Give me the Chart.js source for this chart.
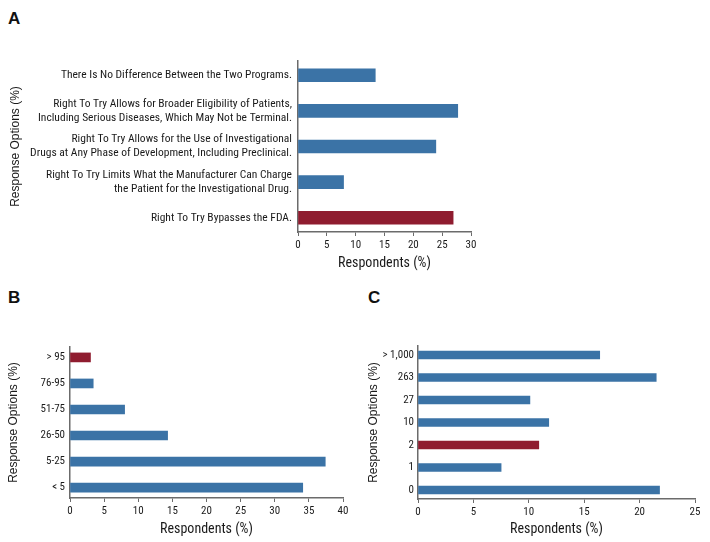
<!DOCTYPE html>
<html>
<head>
<meta charset="utf-8">
<script src="https://cdn.jsdelivr.net/npm/chart.js@4"></script>
<style>
  body { margin: 0; background: #fff; }
  #wrap { position: relative; width: 710px; height: 542px; overflow: hidden; }
  .panel { position: absolute; }
  .letter { position: absolute; font: bold 17px 'Liberation Sans', Arial, sans-serif; color: #111; }
</style>
</head>
<body>
<div id="wrap">
  <div class="letter" style="left:8px; top:9px;">A</div>
  <div class="letter" style="left:8px; top:288px;">B</div>
  <div class="letter" style="left:368px; top:288px;">C</div>
  <div class="panel" style="left:0; top:0; width:490px; height:280px;"><canvas id="chartA"></canvas></div>
  <div class="panel" style="left:0; top:300px; width:360px; height:242px;"><canvas id="chartB"></canvas></div>
  <div class="panel" style="left:360px; top:300px; width:350px; height:242px;"><canvas id="chartC"></canvas></div>
</div>
<script>
// Данные, сверху вниз
const labelsA = [
    'There Is No Difference Between the Two Programs.',
    ['Right To Try Allows for Broader Eligibility of Patients,', 'Including Serious Diseases, Which May Not be Terminal.'],
    ['Right To Try Allows for the Use of Investigational', 'Drugs at Any Phase of Development, Including Preclinical.'],
    ['Right To Try Limits What the Manufacturer Can Charge', 'the Patient for the Investigational Drug.'],
    'Right To Try Bypasses the FDA.'
];
const valuesA = [13.4, 27.7, 23.9, 7.9, 26.9];
const highlightA = 4;

const labelsB = ['> 95', '76-95', '51-75', '26-50', '5-25', '< 5'];
const valuesB = [3.0, 3.4, 8.0, 14.3, 37.4, 34.1];
const highlightB = 0;

const labelsC = ['> 1,000', '263', '27', '10', '2', '1', '0'];
const valuesC = [16.4, 21.5, 10.1, 11.8, 10.9, 7.5, 21.8];
const highlightC = 4;

const BLUE = '#3b73a6';
const RED = '#8f1c2f';
const AXIS = '#6b6b6b';
const TEXT = '#1a1a1a';
const SANS = "'Liberation Sans', Arial, sans-serif";
const NARROW = "'Roboto Condensed', 'DejaVu Sans Condensed', sans-serif";

function makeChart(id, cfg) {
    const n = cfg.labels.length;
    const ctx = document.getElementById(id).getContext('2d');
    return new Chart(ctx, {
        type: 'bar',
        data: {
            datasets: [{
                data: cfg.values.map((v, i) => ({ x: v, y: i })),
                backgroundColor: cfg.values.map((_, i) => i === cfg.highlight ? RED : BLUE),
                barThickness: cfg.barThickness,
                borderWidth: 0
            }]
        },
        options: {
            indexAxis: 'y',
            responsive: true,
            maintainAspectRatio: false,
            animation: false,
            layout: { padding: cfg.padding },
            plugins: { legend: { display: false }, tooltip: { enabled: false } },
            scales: {
                x: {
                    min: 0,
                    max: cfg.xMax,
                    grid: { drawOnChartArea: false, drawTicks: true, tickLength: 4, color: AXIS },
                    border: { display: true, color: AXIS, width: 1.5 },
                    ticks: { stepSize: 5, padding: 3, color: TEXT, font: { family: NARROW, size: 11 } },
                    title: {
                        display: true,
                        text: 'Respondents (%)',
                        color: TEXT,
                        font: { family: NARROW, size: 14 },
                        padding: { top: 0, bottom: cfg.xTitlePad }
                    },
                    afterFit: s => { s.height = cfg.xHeight; }
                },
                y: {
                    type: 'linear',
                    reverse: true,
                    offset: false,
                    bounds: 'data',
                    min: -0.4,
                    max: n - 1 + 0.4,
                    grid: { display: false, drawTicks: false, offset: false },
                    border: { display: true, color: AXIS, width: 1.5 },
                    ticks: {
                        padding: cfg.yTickPad,
                        color: TEXT,
                        font: cfg.yTickFont,
                        callback: v => cfg.labels[v]
                    },
                    afterBuildTicks: s => { s.ticks = cfg.labels.map((_, i) => ({ value: i })); },
                    title: {
                        display: true,
                        text: 'Response Options (%)',
                        color: TEXT,
                        font: { family: SANS, size: 12 },
                        padding: { top: cfg.yTitlePad, bottom: 0 }
                    },
                    afterFit: s => { s.width = cfg.yWidth; }
                }
            }
        }
    });
}

makeChart('chartA', {
    labels: labelsA, values: valuesA, highlight: highlightA,
    xMax: 30, barThickness: 13,
    padding: { top: 61, right: 19, bottom: 0, left: 0 },
    yWidth: 298, xHeight: 48, xTitlePad: 8, yTitlePad: 8, yTickPad: 6,
    yTickFont: { family: NARROW, size: 11.5, lineHeight: 1.2 }
});

makeChart('chartB', {
    labels: labelsB, values: valuesB, highlight: highlightB,
    xMax: 40, barThickness: 9,
    padding: { top: 47, right: 17, bottom: 0, left: 0 },
    yWidth: 70, xHeight: 44, xTitlePad: 4, yTitlePad: 6, yTickPad: 5,
    yTickFont: { family: NARROW, size: 11 }
});

makeChart('chartC', {
    labels: labelsC, values: valuesC, highlight: highlightC,
    xMax: 25, barThickness: 8,
    padding: { top: 46, right: 15, bottom: 0, left: 0 },
    yWidth: 58, xHeight: 43, xTitlePad: 4, yTitlePad: 6, yTickPad: 4,
    yTickFont: { family: NARROW, size: 11 }
});
</script>
</body>
</html>
